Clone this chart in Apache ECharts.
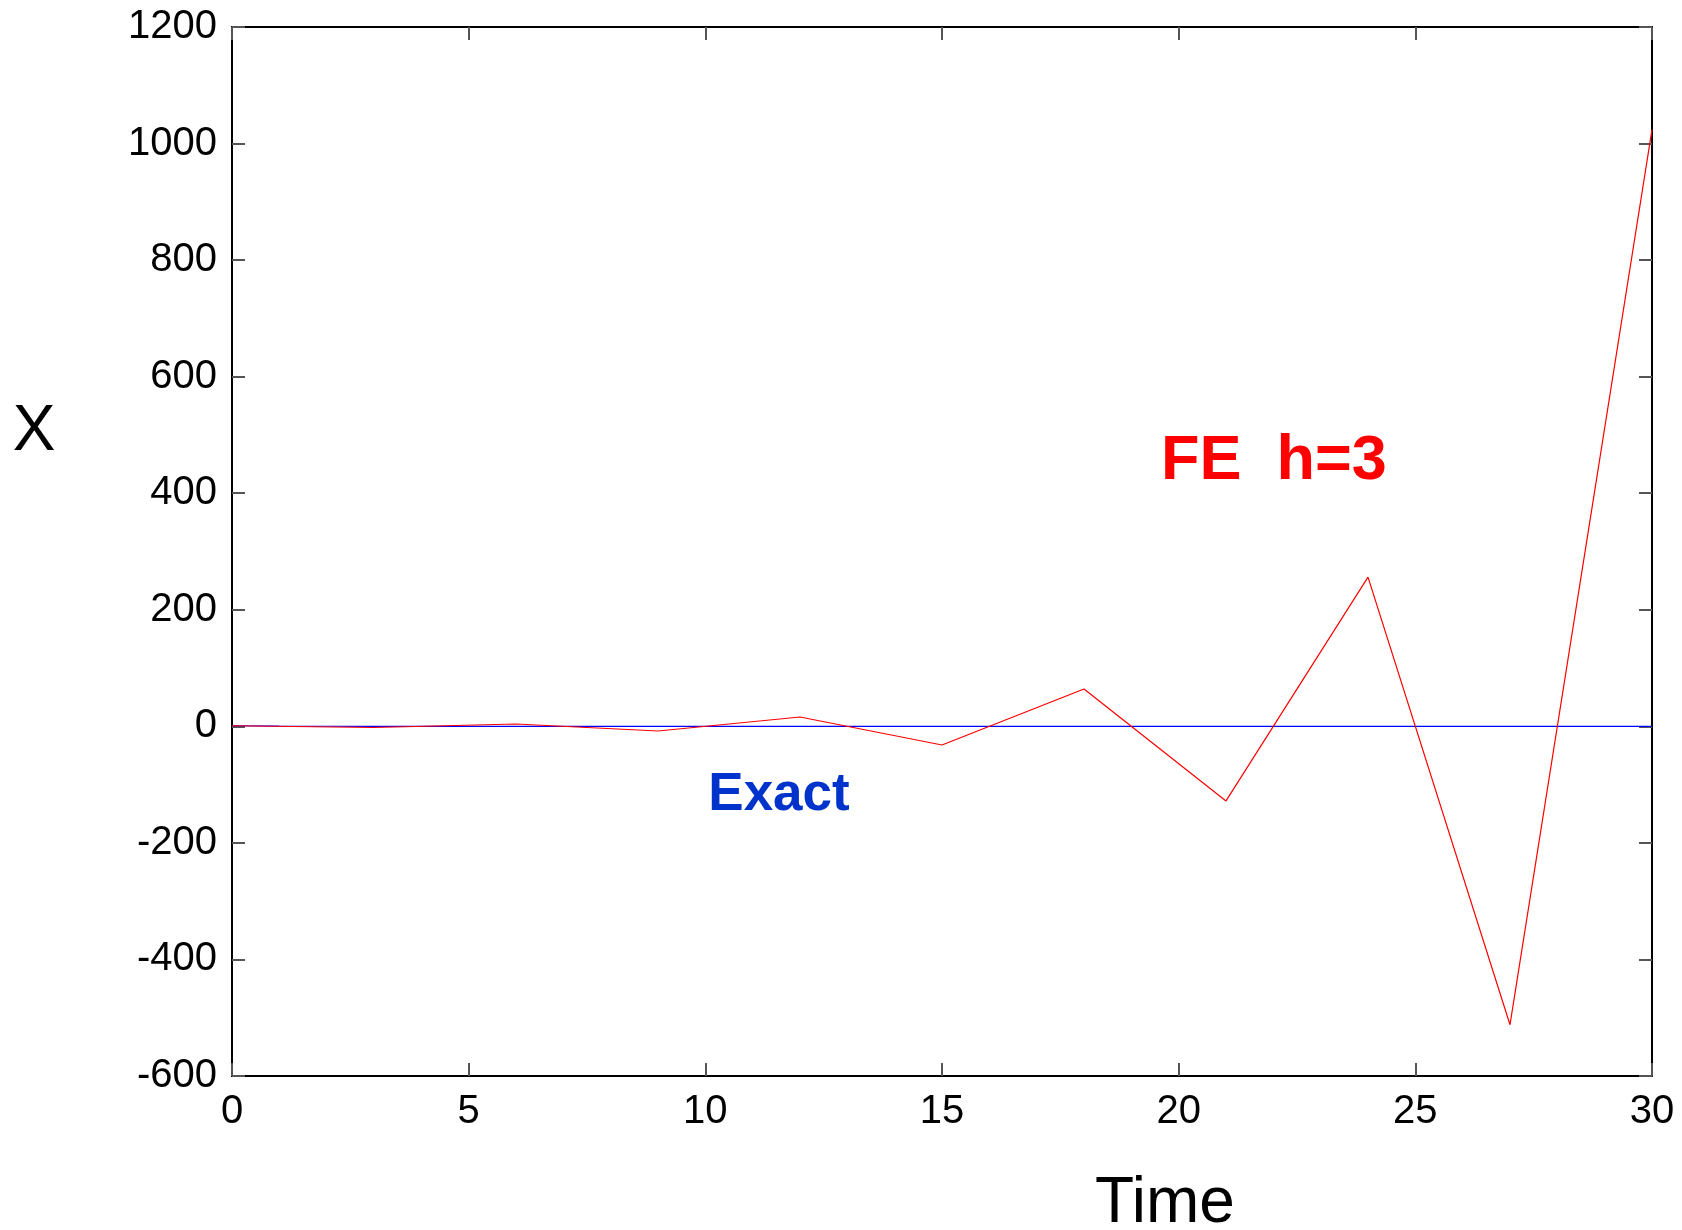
<!DOCTYPE html>
<html>
<head>
<meta charset="utf-8">
<script src="https://cdn.jsdelivr.net/npm/echarts@6/dist/echarts.min.js"></script>
<style>
html,body{margin:0;padding:0;background:#fff;}
#chart{width:1682px;height:1230px;}
</style>
</head>
<body>
<div id="chart"></div>
<script>
// Data
var feTime = [0, 3, 6, 9, 12, 15, 18, 21, 24, 27, 30];
var feX = [1, -2, 4, -8, 16, -32, 64, -128, 256, -512, 1024];
var exactTime = [0, 1, 2, 3, 4, 5, 10, 15, 20, 25, 30];
var exactX = [1, 0.37, 0.14, 0.05, 0.02, 0.01, 0, 0, 0, 0, 0];
var xTicks = [0, 5, 10, 15, 20, 25, 30];
var yTicks = [-600, -400, -200, 0, 200, 400, 600, 800, 1000, 1200];

function pairs(a, b) { return a.map(function (v, i) { return [v, b[i]]; }); }

var FONT = 'Liberation Sans, Arial, sans-serif';
var chart = echarts.init(document.getElementById('chart'), null, {renderer: 'canvas'});

var tickStyle = {show: true, inside: true, length: 13, lineStyle: {color: '#555', width: 2}};
var noLine = {show: false, onZero: false};

chart.setOption({
  backgroundColor: '#fff',
  animation: false,
  grid: {left: 232, right: 30, top: 27, bottom: 154, show: true, borderColor: '#000', borderWidth: 2, backgroundColor: 'transparent'},
  xAxis: [{
    type: 'value', min: xTicks[0], max: xTicks[xTicks.length - 1], interval: 5, position: 'bottom',
    axisLine: noLine, splitLine: {show: false},
    axisTick: tickStyle,
    axisLabel: {color: '#000', fontSize: 40, fontFamily: FONT, margin: 16, formatter: function (v) { return String(v); }}
  }, {
    type: 'value', min: xTicks[0], max: xTicks[xTicks.length - 1], interval: 5, position: 'top',
    axisLine: noLine, splitLine: {show: false},
    axisTick: tickStyle, axisLabel: {show: false}
  }],
  yAxis: [{
    type: 'value', min: yTicks[0], max: yTicks[yTicks.length - 1], interval: 200, position: 'left',
    axisLine: noLine, splitLine: {show: false},
    axisTick: tickStyle,
    axisLabel: {color: '#000', fontSize: 40, fontFamily: FONT, margin: 15, formatter: function (v) { return String(v); }}
  }, {
    type: 'value', min: yTicks[0], max: yTicks[yTicks.length - 1], interval: 200, position: 'right',
    axisLine: noLine, splitLine: {show: false},
    axisTick: tickStyle, axisLabel: {show: false}
  }],
  series: [{
    name: 'Exact', type: 'line', data: pairs(exactTime, exactX), showSymbol: false, symbol: 'none',
    lineStyle: {color: '#0000ff', width: 1.2}, z: 2
  }, {
    name: 'FE h=3', type: 'line', data: pairs(feTime, feX), showSymbol: false, symbol: 'none',
    lineStyle: {color: '#ff0000', width: 1.2}, z: 3
  }],
  graphic: [{
    type: 'text', x: 34, y: 432,
    style: {text: 'X', fontSize: 64, fontFamily: FONT, fill: '#000', textAlign: 'center', textVerticalAlign: 'middle'}
  }, {
    type: 'text', x: 1165, y: 1204,
    style: {text: 'Time', fontSize: 64, fontFamily: FONT, fill: '#000', textAlign: 'center', textVerticalAlign: 'middle'}
  }, {
    type: 'text', x: 1274, y: 462,
    style: {text: 'FE  h=3', fontSize: 63, fontWeight: 'bold', fontFamily: FONT, fill: '#ff0000', textAlign: 'center', textVerticalAlign: 'middle'}
  }, {
    type: 'text', x: 779, y: 795,
    style: {text: 'Exact', fontSize: 53, fontWeight: 'bold', fontFamily: FONT, fill: '#0033cc', textAlign: 'center', textVerticalAlign: 'middle'}
  }]
});
</script>
</body>
</html>
